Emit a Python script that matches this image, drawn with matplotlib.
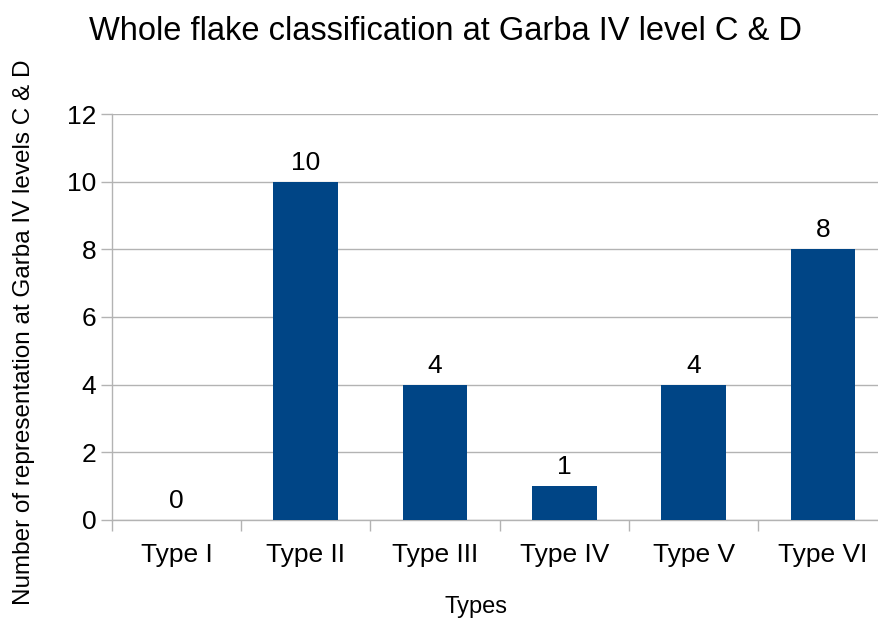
import matplotlib
matplotlib.use("Agg")
import matplotlib.pyplot as plt
import numpy as np

plt.rcParams['font.family'] = ['Liberation Sans', 'DejaVu Sans']

types = ["Type I", "Type II", "Type III", "Type IV", "Type V", "Type VI"]
counts = [0, 10, 4, 1, 4, 8]
yticks = [0, 2, 4, 6, 8, 10, 12]

fig = plt.figure(figsize=(8.79, 6.22), dpi=100)
ax = fig.add_axes([0.1271, 0.1645, 0.8828, 0.6518])

x = np.arange(len(types))
ax.bar(x, counts, width=0.5, color="#004586", zorder=3)

# value labels above bars
for xi, c in zip(x, counts):
  ax.annotate(str(c), (xi, c), xytext=(0, 5), textcoords="offset points",
              ha="center", va="bottom", fontsize=19)

ax.set_xlim(-0.5, len(types) - 0.5)
ax.set_ylim(0, 12)
ax.set_yticks(yticks)
ax.set_yticklabels([str(t) for t in yticks], fontsize=19)
ax.set_xticks(x)
ax.set_xticklabels(types, fontsize=19)
ax.tick_params(axis="x", which="major", length=0, pad=17)
ax.set_xticks(np.arange(-0.5, len(types) + 0.5, 1.0), minor=True)
ax.tick_params(axis="x", which="minor", length=8, color="#b3b3b3", width=1)
ax.tick_params(axis="y", length=8, color="#b3b3b3", width=1, pad=3)

ax.yaxis.grid(True, color="#b3b3b3", linewidth=1, zorder=0)
for s in ["top", "right"]:
  ax.spines[s].set_visible(False)
for s in ["left", "bottom"]:
  ax.spines[s].set_color("#b3b3b3")
  ax.spines[s].set_linewidth(1)

fig.text(446 / 879, 1 - 31 / 622, "Whole flake classification at Garba IV level C & D",
         ha="center", va="center", fontsize=23.5)
fig.text(24 / 879, 1 - 332 / 622, "Number of representation at Garba IV levels C & D",
         ha="center", va="center", rotation=90, fontsize=17.5)
fig.text(476 / 879, 1 - 607 / 622, "Types", ha="center", va="center", fontsize=17)

plt.savefig("out.png", dpi=100)
plt.close()
